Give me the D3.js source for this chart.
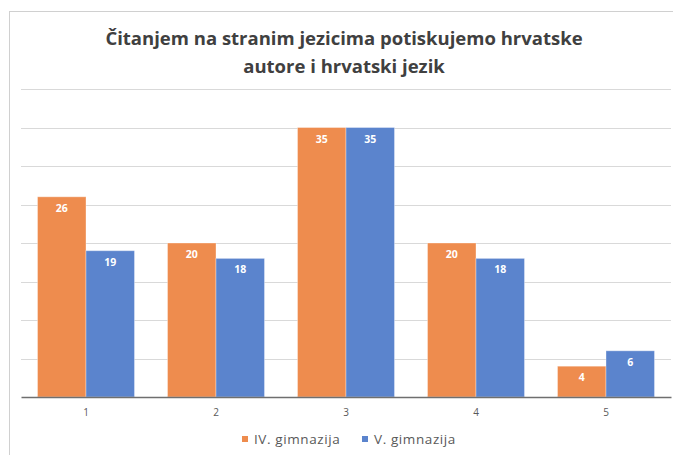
<!DOCTYPE html>
<html>
<head>
<meta charset="utf-8">
<script src="https://d3js.org/d3.v7.min.js"></script>
<style>
  body { margin: 0; background: #fff; }
  text { font-family: "Open Sans", "Noto Sans", sans-serif; }
</style>
</head>
<body>
<svg id="chart" width="673" height="455"></svg>
<script>
  // data
  const categories = ["1", "2", "3", "4", "5"];
  const seriesNames = ["IV. gimnazija", "V. gimnazija"];
  const ivGimnazija = [26, 20, 35, 20, 4];
  const vGimnazija = [19, 18, 35, 18, 6];
  const yTicks = [0, 5, 10, 15, 20, 25, 30, 35, 40];
  const colors = ["#EE8C4E", "#5B84CD"];

  const svg = d3.select("#chart");
  const plotLeft = 21, plotRight = 671, plotTop = 89, plotBottom = 397;

  // frame
  svg.append("rect")
    .attr("x", 9.5).attr("y", 11.5)
    .attr("width", 700).attr("height", 500)
    .attr("fill", "#fff")
    .attr("stroke", "#d0d0d0");

  const x0 = d3.scaleBand().domain(categories).range([plotLeft, plotRight]);
  const x1 = d3.scaleBand().domain(seriesNames)
    .range([16.5, x0.bandwidth() - 16.5]);
  const y = d3.scaleLinear().domain([0, 40]).range([plotBottom, plotTop]);

  // gridlines
  svg.append("g")
    .selectAll("line")
    .data(yTicks.slice(1))
    .join("line")
      .attr("x1", plotLeft).attr("x2", plotRight)
      .attr("y1", d => Math.round(y(d)) + 0.5)
      .attr("y2", d => Math.round(y(d)) + 0.5)
      .attr("stroke", "#d9d9d9");

  const rows = categories.map((c, i) => ({ cat: c, vals: [ivGimnazija[i], vGimnazija[i]] }));

  const groups = svg.append("g")
    .selectAll("g")
    .data(rows)
    .join("g")
      .attr("transform", d => "translate(" + x0(d.cat) + ",0)");

  groups.selectAll("rect")
    .data(d => d.vals.map((v, j) => ({ name: seriesNames[j], v: v, j: j })))
    .join("rect")
      .attr("x", d => x1(d.name))
      .attr("y", d => y(d.v))
      .attr("width", x1.bandwidth())
      .attr("height", d => plotBottom - y(d.v))
      .attr("fill", d => colors[d.j])
      .attr("stroke", "rgba(255,255,255,0.35)")
      .attr("stroke-width", 1);

  groups.selectAll("text")
    .data(d => d.vals.map((v, j) => ({ name: seriesNames[j], v: v, j: j })))
    .join("text")
      .attr("x", d => x1(d.name) + x1.bandwidth() / 2)
      .attr("y", d => y(d.v) + 15)
      .attr("text-anchor", "middle")
      .attr("fill", "#fff")
      .attr("font-size", 10.5)
      .attr("font-weight", "bold")
      .text(d => d.v);

  // x axis
  const xAxis = svg.append("g")
    .attr("transform", "translate(0," + plotBottom + ")")
    .call(d3.axisBottom(x0).tickSize(0).tickPadding(12));
  xAxis.select(".domain").attr("stroke", "#6f6f6f").attr("stroke-width", 1.3);
  xAxis.selectAll("text")
    .attr("fill", "#595959")
    .attr("font-size", 10)
    .attr("font-family", "'Open Sans', sans-serif");

  // title
  const title = svg.append("text")
    .attr("text-anchor", "middle")
    .attr("fill", "#404040")
    .attr("font-size", 18.5)
    .attr("font-weight", "bold");
  title.append("tspan").attr("x", 344).attr("y", 45)
    .text("Čitanjem na stranim jezicima potiskujemo hrvatske");
  title.append("tspan").attr("x", 344).attr("y", 73)
    .text("autore i hrvatski jezik");

  // legend
  const legendX = [242, 362];
  const legend = svg.append("g")
    .selectAll("g")
    .data(seriesNames)
    .join("g")
      .attr("transform", (d, i) => "translate(" + legendX[i] + ",436)");
  legend.append("rect")
    .attr("width", 6).attr("height", 6)
    .attr("fill", (d, i) => colors[i]);
  legend.append("text")
    .attr("x", 12).attr("y", 7.5)
    .attr("fill", "#595959")
    .attr("font-size", 13.5)
    .attr("letter-spacing", 0.6)
    .text(d => d);
</script>
</body>
</html>
